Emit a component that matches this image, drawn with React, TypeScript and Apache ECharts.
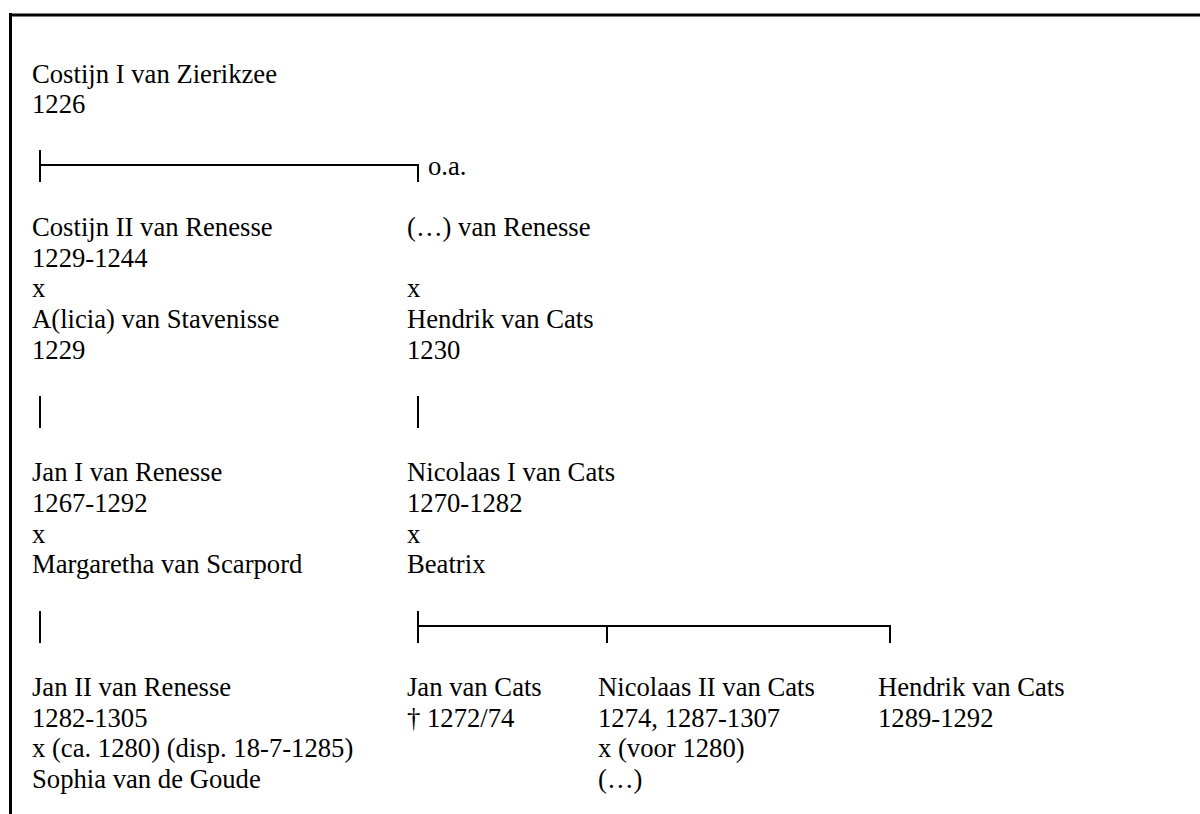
import React, { useEffect, useRef } from "react";
import * as echarts from "echarts";

// Text content of the family tree, one array per generation (each inner array is one column)
const generation1: string[][] = [["Costijn I van Zierikzee", "1226"]];
const generation2: string[][] = [
  ["Costijn II van Renesse", "1229-1244", "x", "A(licia) van Stavenisse", "1229"],
  ["(…) van Renesse", "", "x", "Hendrik van Cats", "1230"],
];
const generation3: string[][] = [
  ["Jan I van Renesse", "1267-1292", "x", "Margaretha van Scarpord"],
  ["Nicolaas I van Cats", "1270-1282", "x", "Beatrix"],
];
const generation4: string[][] = [
  ["Jan II van Renesse", "1282-1305", "x (ca. 1280) (disp. 18-7-1285)", "Sophia van de Goude"],
  ["Jan van Cats", "† 1272/74"],
  ["Nicolaas II van Cats", "1274, 1287-1307", "x (voor 1280)", "(…)"],
  ["Hendrik van Cats", "1289-1292"],
];
const annotation = "o.a.";

// layout
const COLS = [32, 407, 598, 878];
const TICKS = [40, 418, 607, 890];
const LINE0 = 82.7;
const PITCH = 30.67;
const FONT_SIZE = 26.67;
const FONT_FAMILY = "Times New Roman, Liberation Serif, serif";
const genStart = [0, 5, 13, 20];

function baseline(idx: number) {
  return LINE0 + idx * PITCH;
}

function textEl(text: string, x: number, base: number) {
  return {
    type: "text",
    x,
    y: base - 9,
    silent: true,
    style: {
      text,
      x: 0,
      y: 0,
      fontFamily: FONT_FAMILY,
      fontSize: FONT_SIZE,
      fill: "#000",
      align: "left",
      verticalAlign: "middle",
    },
  };
}

function lineEl(x1: number, y1: number, x2: number, y2: number, w = 2) {
  return {
    type: "line",
    silent: true,
    shape: { x1, y1, x2, y2 },
    style: { stroke: "#000", lineWidth: w },
  };
}

export default function App() {
  const ref = useRef<HTMLDivElement>(null);
  useEffect(() => {
    document.body.style.margin = "0";
    if (!ref.current) return;
    const chart = echarts.init(ref.current, null, { renderer: "svg" });
    const els: any[] = [];
    const gens = [generation1, generation2, generation3, generation4];
    gens.forEach((gen, g) => {
      gen.forEach((col, c) => {
        col.forEach((t, i) => {
          if (t) els.push(textEl(t, COLS[c], baseline(genStart[g] + i)));
        });
      });
    });
    // annotation next to first connector
    els.push(textEl(annotation, 428, baseline(3)));

    // border
    els.push(lineEl(10.5, 13, 10.5, 814, 3));
    els.push(lineEl(9, 15, 1200, 15, 3));

    // connector gen1 -> gen2
    els.push(lineEl(TICKS[0], 150, TICKS[0], 182));
    els.push(lineEl(TICKS[0], 165, TICKS[1] + 1, 165));
    els.push(lineEl(TICKS[1], 165, TICKS[1], 182));

    // gen2 -> gen3 verticals
    els.push(lineEl(TICKS[0], 396, TICKS[0], 428));
    els.push(lineEl(TICKS[1], 396, TICKS[1], 428));

    // gen3 -> gen4
    els.push(lineEl(TICKS[0], 611, TICKS[0], 643));
    els.push(lineEl(TICKS[1], 611, TICKS[1], 643));
    els.push(lineEl(TICKS[1], 626, TICKS[3] + 1, 626));
    els.push(lineEl(TICKS[2], 626, TICKS[2], 643));
    els.push(lineEl(TICKS[3], 626, TICKS[3], 643));

    chart.setOption({
      animation: false,
      backgroundColor: "#fff",
      graphic: { elements: els },
    });
    return () => chart.dispose();
  }, []);
  return <div ref={ref} style={{ width: 1200, height: 814 }} />;
}
